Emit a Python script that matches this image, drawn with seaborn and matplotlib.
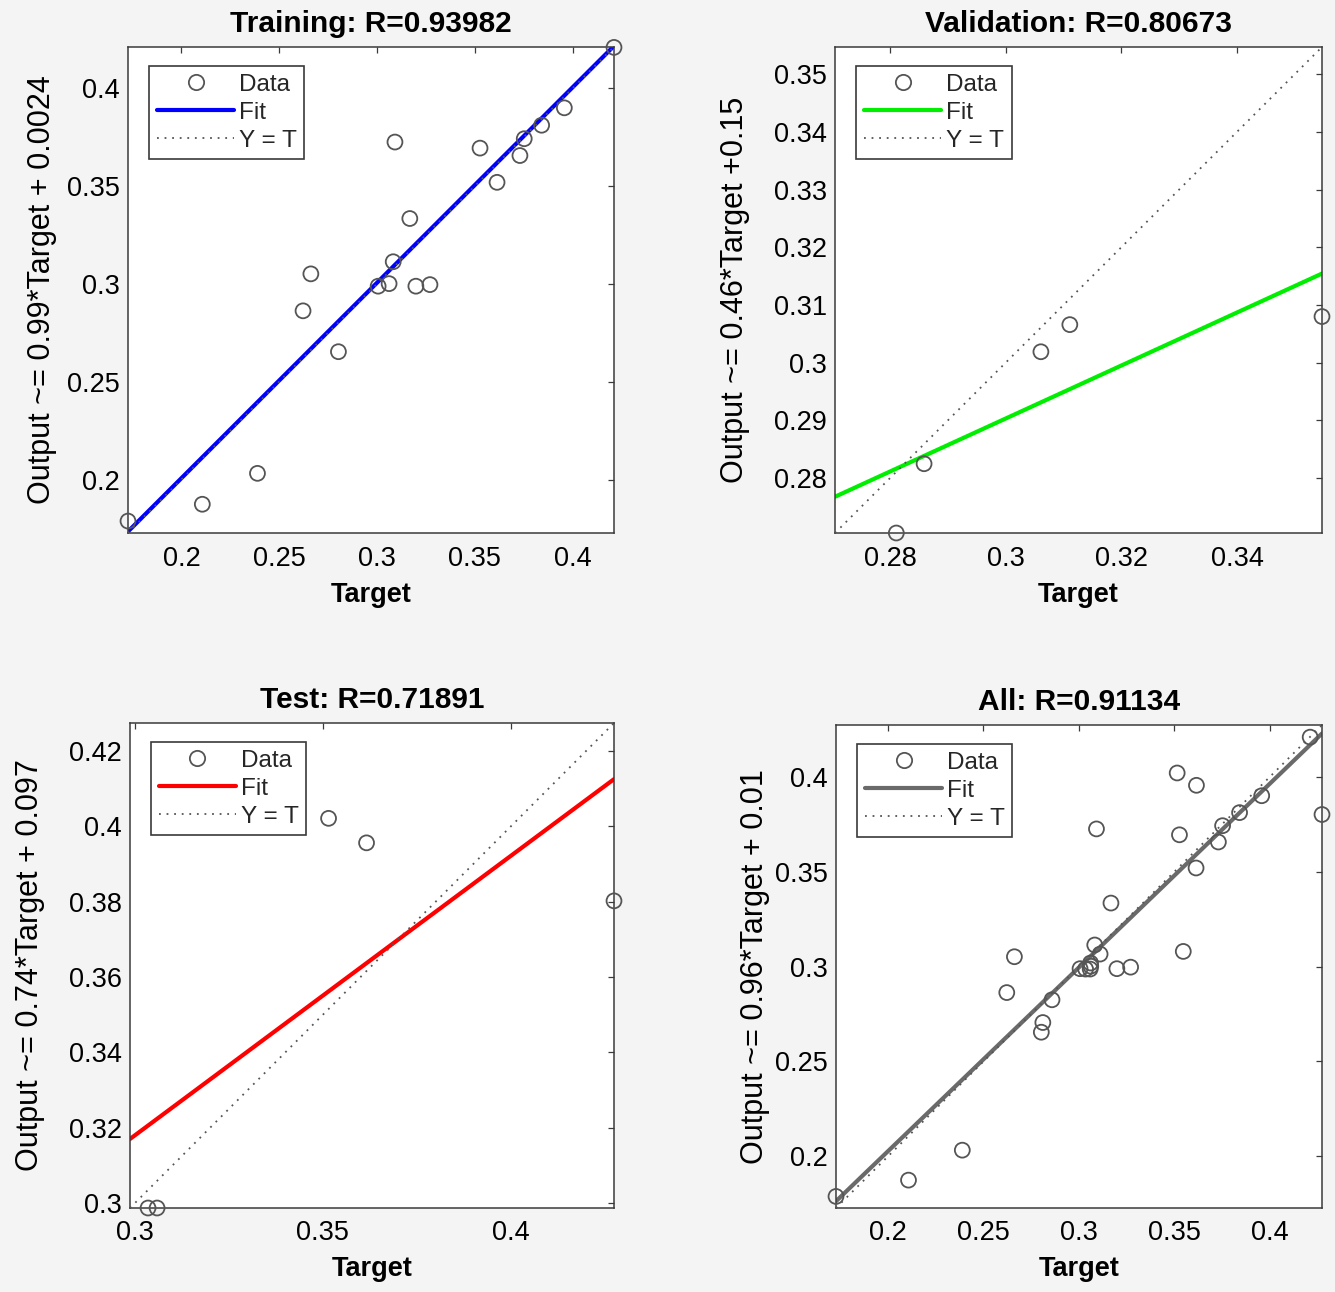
import numpy as np
import pandas as pd
import matplotlib
matplotlib.use('Agg')
import matplotlib.pyplot as plt
import seaborn as sns
from matplotlib.lines import Line2D
from matplotlib.ticker import FuncFormatter, MultipleLocator

# ---------------- data ----------------
train_target = [0.1727, 0.2107, 0.2389, 0.2622, 0.2662, 0.2803, 0.3006, 0.3062, 0.3083, 0.3092,
                0.3168, 0.3199, 0.3271, 0.3527, 0.3614, 0.3731, 0.3753, 0.3842, 0.3958, 0.4212]
train_output = [0.1788, 0.1874, 0.2032, 0.2863, 0.3052, 0.2654, 0.2989, 0.3002, 0.3114, 0.3726,
                0.3335, 0.2989, 0.2997, 0.3695, 0.3520, 0.3657, 0.3743, 0.3812, 0.3901, 0.4210]
val_target = [0.2811, 0.2859, 0.3061, 0.3111, 0.3547]
val_output = [0.2705, 0.2825, 0.3019, 0.3066, 0.3080]
test_target = [0.3035, 0.3059, 0.3515, 0.3616, 0.4274]
test_output = [0.2987, 0.2987, 0.4021, 0.3956, 0.3802]

titles = ["Training: R=0.93982", "Validation: R=0.80673", "Test: R=0.71891", "All: R=0.91134"]
ylabels = ["Output ~= 0.99*Target + 0.0024", "Output ~= 0.46*Target +0.15",
           "Output ~= 0.74*Target + 0.097", "Output ~= 0.96*Target + 0.01"]
fit_colors = ["#0000ff", "#00ee00", "#ff0000", "#6a6a6a"]
x_steps = [0.05, 0.02, 0.05, 0.05]
y_steps = [0.05, 0.01, 0.02, 0.05]

# ---------------- style ----------------
sns.set_theme(style="white")
plt.rcParams['font.family'] = ['Liberation Sans', 'DejaVu Sans']
plt.rcParams['axes.edgecolor'] = '#3a3a3a'
plt.rcParams['axes.linewidth'] = 1.1

BG = '#f4f4f4'
fig = plt.figure(figsize=(13.35, 12.92), dpi=100, facecolor=BG)

W, H = 1335.0, 1292.0
boxes = [(128, 47, 486, 486), (835, 47, 487, 486), (130, 723, 484, 485), (836, 725, 486, 483)]
ylabel_x = [-0.147, -0.1745, -0.176, -0.136]

subsets = [
    (train_target, train_output),
    (val_target, val_output),
    (test_target, test_output),
    (train_target + val_target + test_target, train_output + val_output + test_output),
]

fmt = FuncFormatter(lambda v, _: f"{round(v, 4):g}")

for i, (tgt, out) in enumerate(subsets):
    l, t, w, h = boxes[i]
    ax = fig.add_axes([l / W, 1 - (t + h) / H, w / W, h / H])
    ax.set_facecolor('white')
    df = pd.DataFrame({"Target": tgt, "Output": out})
    lo = min(df["Target"].min(), df["Output"].min())
    hi = max(df["Target"].max(), df["Output"].max())

    slope, intercept = np.polyfit(df["Target"], df["Output"], 1)
    line_df = pd.DataFrame({"x": [lo, hi]})
    line_df["fit"] = slope * line_df["x"] + intercept
    line_df["ident"] = line_df["x"]

    sns.scatterplot(data=df, x="Target", y="Output", ax=ax, marker='o', s=115,
                    facecolor='none', edgecolor='#555555', linewidth=1.3, zorder=3,
                    clip_on=False)
    sns.lineplot(data=line_df, x="x", y="fit", ax=ax, color=fit_colors[i], linewidth=3.0,
                 zorder=2)
    sns.lineplot(data=line_df, x="x", y="ident", ax=ax, color='#555555', linewidth=1.3,
                 dashes=False, zorder=4)
    ax.lines[-1].set_dashes((1, 3.2))

    ax.set_xlim(lo, hi)
    ax.set_ylim(lo, hi)
    ax.xaxis.set_major_locator(MultipleLocator(x_steps[i]))
    ax.yaxis.set_major_locator(MultipleLocator(y_steps[i]))
    ax.xaxis.set_major_formatter(fmt)
    ax.yaxis.set_major_formatter(fmt)
    ax.tick_params(direction='in', top=True, right=True, length=4, width=0.9,
                   color='#3a3a3a', labelsize=19.5, labelcolor='black')
    ax.tick_params(axis='x', pad=9)
    ax.tick_params(axis='y', pad=6)

    ax.set_title(titles[i], fontsize=21.5, fontweight='bold', pad=11, color='black')
    ax.set_xlabel("Target", fontsize=19.5, fontweight='bold', color='black')
    ax.set_ylabel(ylabels[i], fontsize=22, color='black')
    ax.xaxis.set_label_coords(0.5, -0.1)
    ax.yaxis.set_label_coords(ylabel_x[i], 0.5)

    handles = [
        Line2D([], [], marker='o', linestyle='none', markersize=11, markerfacecolor='none',
               markeredgecolor='#555555', markeredgewidth=1.3),
        Line2D([], [], color=fit_colors[i], linewidth=3.0),
        Line2D([], [], color='#555555', linewidth=1.3, dashes=(1, 3.2)),
    ]
    leg = ax.legend(handles, ["Data", "Fit", "Y = T"], loc='upper left',
                    bbox_to_anchor=(0.044, 0.96), borderaxespad=0, fontsize=17.5,
                    frameon=True, fancybox=False, framealpha=1, edgecolor='#3a3a3a',
                    handlelength=3.2, handletextpad=0.2, borderpad=0.3, labelspacing=0.25)
    leg.get_frame().set_linewidth(1.2)
    for s in ax.spines.values():
        s.set_visible(True)

fig.savefig("out.png", dpi=100, facecolor=BG)
